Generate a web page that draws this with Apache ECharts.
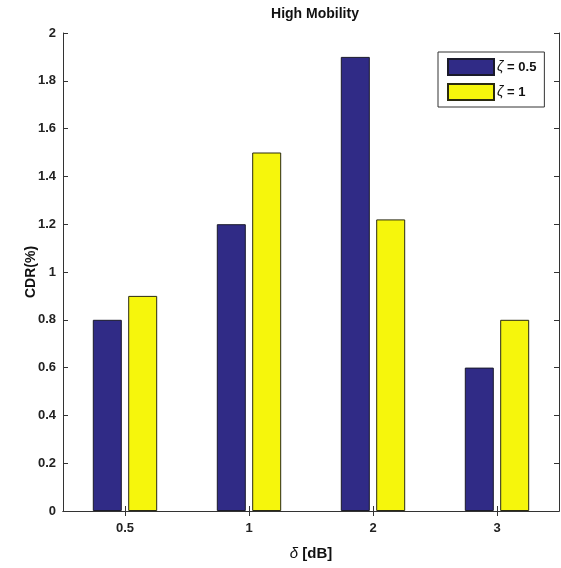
<!DOCTYPE html>
<html>
<head>
<meta charset="utf-8">
<script src="https://cdn.jsdelivr.net/npm/echarts@6/dist/echarts.min.js"></script>
<style>
html,body{margin:0;padding:0;background:#fff;}
#chart{width:561px;height:568px;}
</style>
</head>
<body>
<div id="chart"></div>
<script>
const categories = ['0.5', '1', '2', '3'];
const seriesNames = ['ζ = 0.5', 'ζ = 1'];
const zeta05 = [0.8, 1.2, 1.9, 0.6];
const zeta1 = [0.9, 1.5, 1.22, 0.8];
const yTicks = [0, 0.2, 0.4, 0.6, 0.8, 1, 1.2, 1.4, 1.6, 1.8, 2];

const FONT = '"Liberation Sans", Arial, sans-serif';
const chart = echarts.init(document.getElementById('chart'));
const tickStyle = {show: true, inside: true, length: 5, lineStyle: {color: '#333', width: 1}};
chart.setOption({
  backgroundColor: '#fff',
  animation: false,
  textStyle: {fontFamily: FONT},
  title: {
    text: 'High Mobility', left: 310, top: 2, textAlign: 'center',
    textStyle: {fontFamily: FONT, fontSize: 14, fontWeight: 'bold', color: '#111'}
  },
  legend: {
    orient: 'vertical', left: 438, top: 52,
    icon: 'rect',
    itemWidth: 46, itemHeight: 16, itemGap: 7,
    padding: [6, 8, 6, 9],
    borderColor: '#333', borderWidth: 1, backgroundColor: '#fff',
    data: seriesNames,
    formatter: function (name) { return '{g|ζ}{t|' + name.slice(1) + '}'; },
    textStyle: {
      fontFamily: FONT, color: '#111', padding: [0, 0, 0, -2],
      rich: {
        g: {fontStyle: 'italic', fontSize: 14, fontFamily: FONT, color: '#111'},
        t: {fontWeight: 'bold', fontSize: 13, fontFamily: FONT, color: '#111'}
      }
    }
  },
  grid: {left: 63, right: 2, top: 33, bottom: 57, containLabel: false},
  xAxis: [{
    type: 'category', data: categories, position: 'bottom',
    axisLine: {show: true, lineStyle: {color: '#333', width: 1}},
    axisTick: Object.assign({alignWithLabel: true}, tickStyle),
    axisLabel: {margin: 11, fontFamily: FONT, fontSize: 13, fontWeight: 'bold', color: '#222'},
    name: '{d|δ}{b| [dB]}', nameLocation: 'middle', nameGap: 35, nameMoveOverlap: false,
    nameTextStyle: {
      rich: {
        d: {fontStyle: 'italic', fontSize: 15, fontFamily: FONT, color: '#111'},
        b: {fontWeight: 'bold', fontSize: 15, fontFamily: FONT, color: '#111'}
      }
    }
  }, {
    type: 'category', data: categories, position: 'top',
    axisLine: {show: true, lineStyle: {color: '#333', width: 1}},
    axisTick: Object.assign({alignWithLabel: true}, tickStyle),
    axisLabel: {show: false}
  }],
  yAxis: [{
    type: 'value', min: 0, max: 2, interval: 0.2, position: 'left',
    axisLine: {show: true, lineStyle: {color: '#333', width: 1}},
    axisTick: tickStyle,
    splitLine: {show: false},
    axisLabel: {
      margin: 7, fontFamily: FONT, fontSize: 13, fontWeight: 'bold', color: '#222',
      formatter: function (v) { const t = yTicks.find(x => Math.abs(x - v) < 1e-9); return t === undefined ? '' : String(t); }
    },
    name: 'CDR(%)', nameLocation: 'middle', nameGap: 25, nameRotate: 90, nameMoveOverlap: false,
    nameTextStyle: {fontFamily: FONT, fontSize: 14, fontWeight: 'bold', color: '#111'}
  }, {
    type: 'value', min: 0, max: 2, interval: 0.2, position: 'right',
    axisLine: {show: true, lineStyle: {color: '#333', width: 1}},
    axisTick: tickStyle,
    splitLine: {show: false},
    axisLabel: {show: false}
  }],
  series: [{
    name: seriesNames[0], type: 'bar', data: zeta05,
    barWidth: 29, barGap: '22%',
    itemStyle: {color: '#302b86', borderColor: '#1a1a2a', borderWidth: 1}
  }, {
    name: seriesNames[1], type: 'bar', data: zeta1,
    barWidth: 29, barGap: '22%',
    itemStyle: {color: '#f6f60c', borderColor: '#2a2a10', borderWidth: 1}
  }]
});
</script>
</body>
</html>
